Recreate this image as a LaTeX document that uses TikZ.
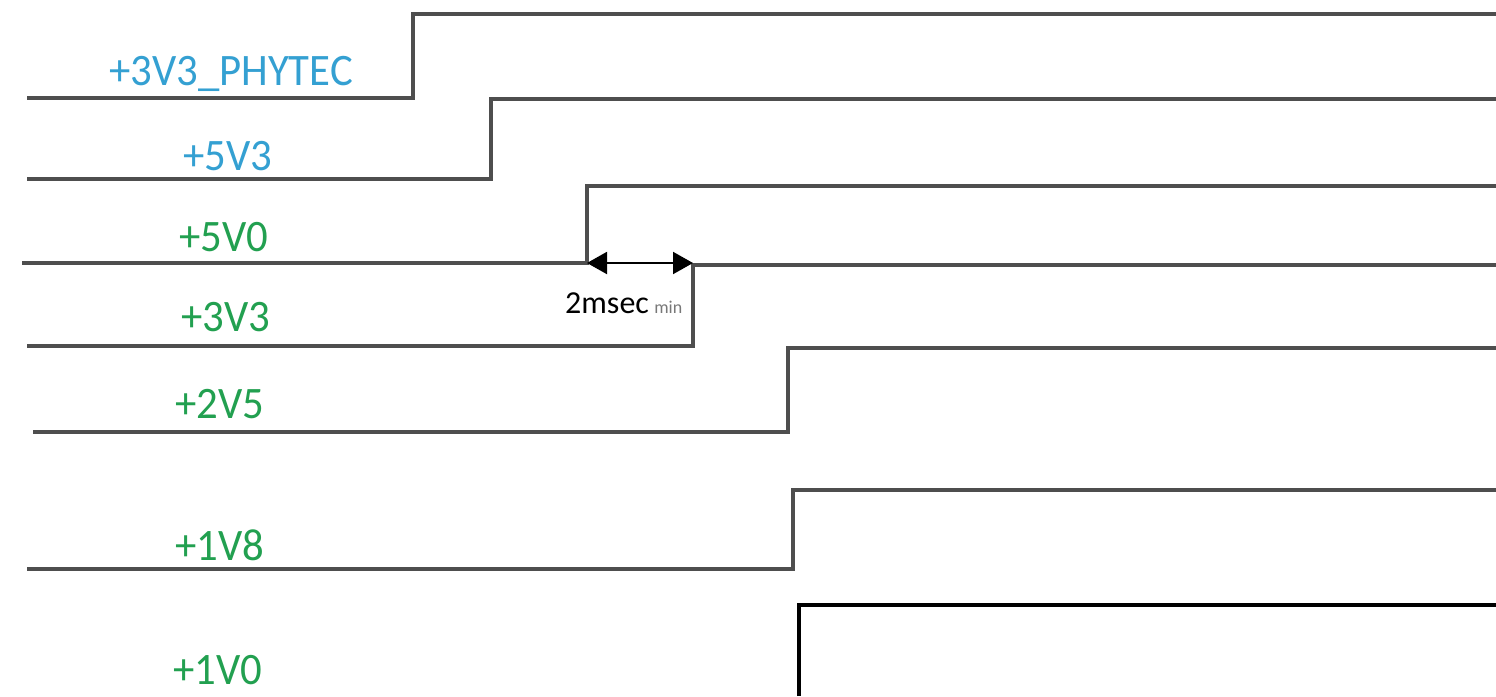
\documentclass[tikz,border=0pt]{standalone}
\usepackage{fontspec}
\setmainfont{Carlito}
\usetikzlibrary{arrows.meta}
\definecolor{sigline}{RGB}{78,78,78}
\definecolor{lblblue}{RGB}{52,160,210}
\definecolor{lblgreen}{RGB}{34,160,80}
\definecolor{mingray}{RGB}{120,120,120}
\tikzset{
  sig/.style={draw=sigline, line width=3.5pt, line join=miter},
  lbl/.style={anchor=base, inner sep=0pt, font=\fontsize{45}{45}\selectfont, xscale=0.95},
  bluelbl/.style={lbl, text=lblblue},
  greenlbl/.style={lbl, text=lblgreen},
  dimarrow/.style={draw=black, line width=2pt, {Triangle[length=20pt,width=22pt]}-{Triangle[length=20pt,width=22pt]}},
}
\begin{document}
\begin{tikzpicture}[x=1pt,y=-1pt]
\useasboundingbox (0,0) rectangle (1496,696);
\fill[white] (0,0) rectangle (1496,696);

% signal waveforms
\draw[sig] (27,98) -- (413,98) -- (413,14) -- (1496,14);
\draw[sig] (27,179) -- (491,179) -- (491,99) -- (1496,99);
\draw[sig] (22,263) -- (587,263) -- (587,186) -- (1496,186);
\draw[sig] (27,346) -- (693,346) -- (693,265) -- (1496,265);
\draw[sig] (33,432) -- (788,432) -- (788,348) -- (1496,348);
\draw[sig] (27,569) -- (793,569) -- (793,490) -- (1496,490);
\draw[sig, draw=black] (799,696) -- (799,605) -- (1496,605);

% labels
\node[bluelbl] (l1) at (231,85) {+3V3\_PHYTEC};
\node[bluelbl] (l2) at (228,170) {+5V3};
\node[greenlbl] (l3) at (224,251) {+5V0};
\node[greenlbl] (l4) at (226,331) {+3V3};
\node[greenlbl] (l5) at (220,418) {+2V5};
\node[greenlbl] (l6) at (220,560) {+1V8};
\node[greenlbl] (l7) at (218,684) {+1V0};

% 2 msec min dimension
\coordinate (dA) at (587,263);
\coordinate (dB) at (693,263);
\draw[dimarrow] (dA) -- (dB);
\node[anchor=base west, inner sep=0pt, font=\fontsize{32}{32}\selectfont] (dim) at (565,313) {2msec\,{\fontsize{18}{18}\selectfont\color{mingray}min}};
\end{tikzpicture}
\end{document}
